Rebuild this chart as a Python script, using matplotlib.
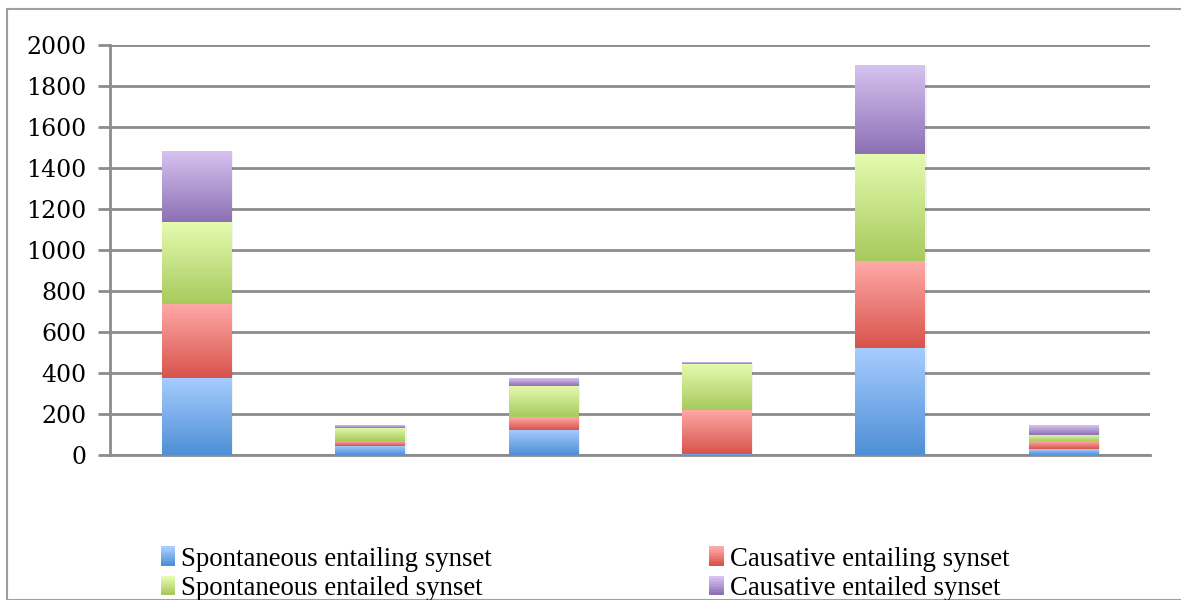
import numpy as np
import matplotlib
matplotlib.use("Agg")
import matplotlib.pyplot as plt
from matplotlib.colors import LinearSegmentedColormap
from matplotlib.patches import Rectangle
from matplotlib.legend_handler import HandlerBase

# Stacked counts per group (no category labels on the x axis)
groups = ["G1", "G2", "G3", "G4", "G5", "G6"]
spont_entailing = [376, 45, 123, 6, 523, 29]
caus_entailing = [361, 23, 62, 215, 423, 39]
spont_entailed = [400, 65, 153, 225, 522, 30]
caus_entailed = [346, 13, 39, 8, 434, 45]

series = [
    ("Spontaneous entailing synset", spont_entailing, "#a8cdff", "#4e8fd6"),
    ("Causative entailing synset", caus_entailing, "#ffaaa8", "#d8534b"),
    ("Spontaneous entailed synset", spont_entailed, "#e5fbb1", "#a7ca5c"),
    ("Causative entailed synset", caus_entailed, "#d6c3f0", "#8d70b4"),
]
yticks = [0, 200, 400, 600, 800, 1000, 1200, 1400, 1600, 1800, 2000]


class GradientSwatch(HandlerBase):
    """Legend key made of thin horizontal strips fading bottom -> top."""
    def __init__(self, cmap):
        super().__init__()
        self.cmap = cmap

    def create_artists(self, legend, orig_handle, xdescent, ydescent, width, height,
                       fontsize, trans):
        n = 12
        arts = []
        for i in range(n):
            r = Rectangle((-xdescent, -ydescent + height * i / n), width, height / n + 0.3,
                          facecolor=self.cmap(i / (n - 1)), edgecolor="none",
                          transform=trans)
            arts.append(r)
        return arts


fig = plt.figure(figsize=(11.81, 6), dpi=100)
ax = fig.add_axes([0.0931, 0.2417, 0.8807, 0.6833])

# outer chart border
fig.patches.append(Rectangle((7 / 1181, 0), 1.1, 1 - 9 / 600, transform=fig.transFigure,
                             fill=False, edgecolor="#a0a0a0", linewidth=1.5, zorder=0))

x = np.arange(len(groups))
bottom = np.zeros(len(groups))
grad = np.linspace(0, 1, 256).reshape(-1, 1)
handles, labels, hmap = [], [], {}
for label, vals, top_c, bot_c in series:
    vals = np.array(vals, dtype=float)
    cmap = LinearSegmentedColormap.from_list(label, [bot_c, top_c])
    bars = ax.bar(x, vals, width=0.4, bottom=bottom, color="none", edgecolor="none",
                  zorder=3)
    for b in bars:
        x0, y0, w, h = b.get_x(), b.get_y(), b.get_width(), b.get_height()
        if h <= 0:
            continue
        # faint drop shadow
        ax.add_patch(Rectangle((x0 + 0.012, y0 - 6), w, h, facecolor="#000000",
                               alpha=0.06, edgecolor="none", zorder=2))
        ax.imshow(grad, extent=(x0, x0 + w, y0, y0 + h), origin="lower", cmap=cmap,
                  aspect="auto", interpolation="bicubic", zorder=3)
    bottom += vals
    h = Rectangle((0, 0), 1, 1)
    handles.append(h)
    labels.append(label)
    hmap[h] = GradientSwatch(cmap)

ax.set_xlim(-0.5, len(groups) - 0.5)
ax.set_ylim(0, 2000)
ax.set_yticks(yticks)
ax.set_yticklabels([str(t) for t in yticks], fontsize=17, family="DejaVu Serif")
ax.set_xticks([])
ax.tick_params(axis="y", length=9, width=2, color="#8c8c8c", pad=8)
ax.yaxis.grid(True, color="#8c8c8c", linewidth=2)
ax.set_axisbelow(True)
for s in ["top", "right"]:
    ax.spines[s].set_visible(False)
for s in ["left", "bottom"]:
    ax.spines[s].set_color("#8c8c8c")
    ax.spines[s].set_linewidth(2)

# legend rows: entailing pair on top, entailed pair below
order = [0, 2, 1, 3]
fig.legend([handles[i] for i in order], [labels[i] for i in order], handler_map=hmap,
           loc="upper left", ncol=2, bbox_to_anchor=(0.136, 0.089), frameon=False,
           prop={"family": "Liberation Serif", "size": 19.3},
           handlelength=0.55, handleheight=0.7, handletextpad=0.2,
           columnspacing=8.13, labelspacing=0.16, borderaxespad=0, borderpad=0)

fig.savefig("out.png", dpi=100)
